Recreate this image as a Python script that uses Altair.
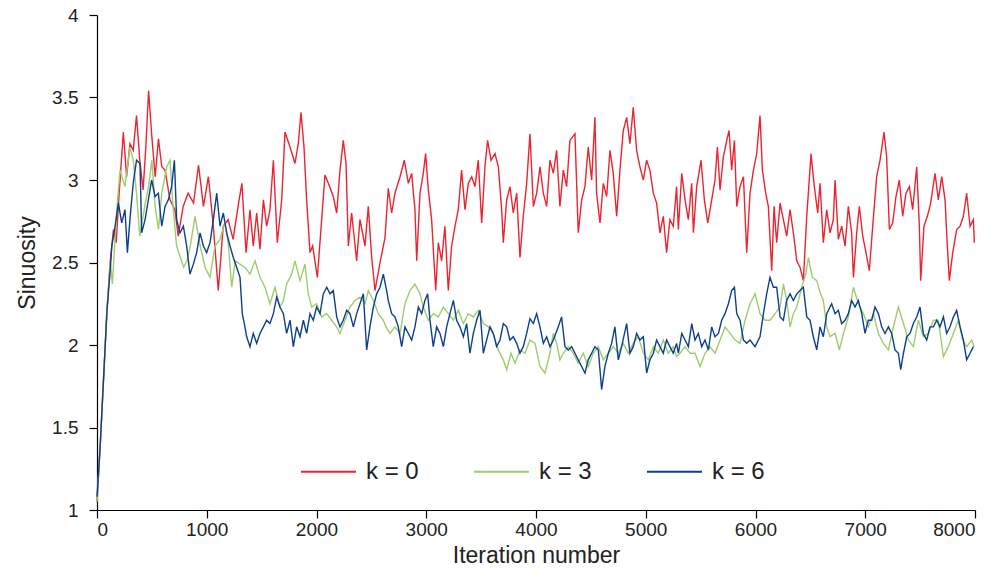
import altair as alt
import pandas as pd

# Sinuosity traces for three values of k, sampled along the iteration axis
K0_ITER = [0, 30, 60, 90, 120, 150, 175, 200, 240, 270, 300, 330, 360, 390, 420, 445, 470, 500, 530, 560, 590, 620, 665, 710, 740, 785, 830, 880, 925, 970, 1015, 1060, 1105, 1150, 1195, 1240, 1290, 1320, 1358, 1394, 1424, 1455, 1485, 1516, 1546, 1576, 1607, 1643, 1683, 1713, 1759, 1804, 1834, 1859, 1886, 1910, 1941, 1965, 2008, 2047, 2077, 2108, 2153, 2184, 2214, 2244, 2269, 2290, 2320, 2366, 2396, 2442, 2472, 2503, 2533, 2579, 2624, 2654, 2685, 2715, 2761, 2800, 2837, 2867, 2897, 2913, 2943, 2973, 2994, 3019, 3049, 3086, 3110, 3140, 3170, 3201, 3231, 3262, 3292, 3322, 3353, 3383, 3414, 3444, 3474, 3505, 3535, 3559, 3590, 3626, 3657, 3687, 3702, 3733, 3763, 3793, 3824, 3854, 3884, 3915, 3945, 3976, 4006, 4036, 4067, 4097, 4127, 4158, 4188, 4218, 4249, 4279, 4309, 4355, 4385, 4416, 4446, 4476, 4507, 4537, 4552, 4583, 4613, 4644, 4674, 4704, 4735, 4765, 4795, 4826, 4856, 4886, 4917, 4947, 4978, 5008, 5038, 5069, 5099, 5129, 5160, 5190, 5220, 5251, 5281, 5297, 5328, 5358, 5388, 5419, 5434, 5464, 5504, 5534, 5565, 5601, 5631, 5653, 5677, 5707, 5738, 5759, 5783, 5808, 5829, 5859, 5890, 5920, 5950, 5981, 6011, 6041, 6063, 6093, 6117, 6148, 6169, 6193, 6224, 6254, 6284, 6315, 6345, 6376, 6406, 6436, 6467, 6506, 6536, 6567, 6588, 6618, 6649, 6679, 6709, 6725, 6755, 6785, 6816, 6846, 6876, 6892, 6922, 6946, 6977, 7007, 7037, 7068, 7104, 7135, 7171, 7195, 7220, 7250, 7280, 7311, 7341, 7371, 7402, 7432, 7469, 7493, 7505, 7535, 7566, 7596, 7636, 7666, 7697, 7727, 7748, 7766, 7797, 7833, 7864, 7894, 7924, 7955, 7985, 7994]
K0_SIN = [1.05, 1.4, 1.8, 2.2, 2.5, 2.7, 2.62, 2.9, 3.29, 3.02, 3.22, 3.18, 3.39, 3.12, 2.94, 3.2, 3.54, 3.26, 3.02, 3.25, 3.08, 3.06, 2.88, 2.82, 2.66, 2.84, 2.92, 2.86, 3.09, 2.84, 3.02, 2.72, 2.33, 2.72, 2.76, 2.64, 2.86, 2.98, 2.56, 2.82, 2.60, 2.80, 2.58, 2.88, 2.72, 2.82, 3.12, 2.62, 2.88, 3.29, 3.20, 3.10, 3.22, 3.41, 3.20, 2.88, 2.56, 2.60, 2.41, 2.76, 3.03, 2.98, 2.90, 2.80, 3.06, 3.24, 3.10, 2.60, 2.80, 2.51, 2.76, 2.60, 2.84, 2.53, 2.33, 2.50, 2.65, 2.95, 2.80, 2.92, 3.02, 3.12, 2.98, 3.04, 2.82, 2.51, 2.92, 3.04, 3.16, 2.94, 2.76, 2.33, 2.62, 2.51, 2.72, 2.33, 2.60, 2.72, 2.82, 3.06, 2.82, 2.98, 3.02, 2.96, 3.12, 2.74, 3.08, 3.24, 3.12, 3.16, 3.08, 2.82, 2.62, 2.88, 2.96, 2.80, 2.92, 2.53, 2.78, 2.98, 3.28, 2.84, 2.92, 3.08, 2.92, 2.84, 3.12, 3.04, 3.18, 2.84, 3.06, 2.96, 3.24, 3.28, 2.68, 2.88, 2.96, 3.20, 3.00, 3.38, 2.92, 2.74, 2.98, 2.90, 3.18, 3.04, 2.78, 3.06, 3.30, 3.38, 3.22, 3.44, 3.18, 3.08, 3.00, 3.12, 3.06, 2.92, 2.86, 2.68, 2.78, 2.56, 2.76, 2.72, 2.96, 2.70, 3.04, 2.88, 2.76, 2.98, 2.68, 2.96, 3.12, 2.88, 2.74, 2.88, 3.00, 3.20, 2.94, 3.14, 3.24, 3.30, 3.06, 3.24, 2.84, 2.96, 3.02, 2.56, 2.92, 3.06, 3.16, 3.39, 3.06, 2.92, 2.84, 2.45, 2.84, 2.62, 2.86, 2.76, 2.66, 2.82, 2.68, 2.51, 2.47, 2.39, 2.78, 3.16, 2.96, 2.80, 2.98, 2.62, 2.82, 2.68, 2.76, 3.00, 2.64, 2.72, 2.60, 2.84, 2.68, 2.41, 2.68, 2.84, 2.66, 2.56, 2.45, 2.72, 3.02, 3.12, 3.29, 3.14, 2.70, 2.74, 2.90, 3.00, 2.78, 2.92, 2.96, 2.82, 3.08, 2.72, 2.39, 2.72, 2.78, 2.86, 3.04, 2.88, 3.02, 2.88, 2.60, 2.39, 2.56, 2.70, 2.72, 2.78, 2.92, 2.72, 2.76, 2.62]

K3_ITER = [0, 30, 60, 90, 120, 140, 180, 210, 255, 300, 330, 360, 390, 440, 470, 500, 530, 560, 590, 635, 665, 695, 725, 760, 790, 820, 850, 893, 940, 985, 1030, 1075, 1120, 1165, 1195, 1228, 1258, 1303, 1349, 1394, 1440, 1485, 1531, 1576, 1622, 1667, 1698, 1728, 1774, 1804, 1850, 1895, 1925, 1956, 2001, 2047, 2093, 2138, 2184, 2214, 2260, 2305, 2351, 2396, 2442, 2472, 2518, 2563, 2609, 2640, 2670, 2715, 2761, 2806, 2852, 2897, 2943, 2973, 3019, 3064, 3110, 3156, 3201, 3247, 3292, 3338, 3383, 3429, 3474, 3520, 3565, 3611, 3657, 3702, 3733, 3772, 3809, 3854, 3900, 3945, 3991, 4036, 4082, 4127, 4158, 4188, 4218, 4249, 4294, 4340, 4385, 4431, 4476, 4522, 4568, 4613, 4659, 4704, 4750, 4795, 4841, 4886, 4932, 4978, 5023, 5069, 5114, 5160, 5205, 5251, 5280, 5313, 5358, 5404, 5449, 5495, 5540, 5586, 5631, 5677, 5723, 5768, 5814, 5859, 5905, 5950, 5996, 6041, 6087, 6132, 6178, 6224, 6254, 6284, 6315, 6345, 6376, 6421, 6458, 6482, 6518, 6558, 6588, 6618, 6649, 6679, 6725, 6764, 6801, 6846, 6892, 6937, 6983, 7028, 7074, 7120, 7165, 7211, 7256, 7302, 7348, 7393, 7438, 7484, 7529, 7575, 7621, 7666, 7712, 7757, 7803, 7848, 7888, 7924, 7970, 7994]
K3_SIN = [1.05, 1.4, 1.8, 2.2, 2.51, 2.37, 2.82, 3.06, 2.96, 3.20, 3.12, 2.92, 2.66, 2.86, 2.96, 3.12, 2.84, 2.70, 2.92, 3.08, 3.12, 2.82, 2.60, 2.53, 2.47, 2.51, 2.60, 2.78, 2.60, 2.47, 2.41, 2.60, 2.64, 2.74, 2.62, 2.35, 2.51, 2.49, 2.47, 2.43, 2.51, 2.41, 2.35, 2.25, 2.35, 2.23, 2.27, 2.37, 2.43, 2.51, 2.39, 2.49, 2.31, 2.23, 2.25, 2.17, 2.19, 2.15, 2.11, 2.07, 2.15, 2.23, 2.27, 2.29, 2.25, 2.33, 2.27, 2.19, 2.15, 2.10, 2.07, 2.11, 2.07, 2.25, 2.33, 2.37, 2.31, 2.23, 2.15, 2.19, 2.17, 2.23, 2.19, 2.15, 2.21, 2.13, 2.19, 2.17, 2.21, 2.13, 2.11, 2.07, 1.97, 1.91, 1.85, 1.95, 1.89, 1.97, 1.95, 2.03, 2.01, 1.87, 1.83, 1.95, 2.07, 2.01, 1.91, 1.95, 1.99, 1.95, 1.89, 1.95, 1.87, 1.95, 1.99, 1.91, 1.95, 1.99, 1.95, 2.01, 1.95, 2.01, 2.05, 1.95, 1.91, 1.99, 1.95, 2.03, 1.95, 1.99, 1.93, 1.95, 1.99, 1.95, 1.95, 1.87, 1.95, 1.99, 1.95, 2.03, 2.11, 2.07, 2.03, 2.01, 2.15, 2.25, 2.31, 2.19, 2.15, 2.15, 2.19, 2.23, 2.37, 2.27, 2.11, 2.19, 2.23, 2.35, 2.43, 2.53, 2.41, 2.39, 2.32, 2.27, 2.11, 2.05, 2.07, 1.97, 2.07, 2.17, 2.35, 2.25, 2.19, 2.11, 2.19, 2.07, 2.01, 1.97, 2.11, 2.23, 2.13, 2.03, 1.99, 2.15, 2.05, 2.07, 2.15, 2.15, 1.93, 1.99, 2.07, 2.15, 2.03, 1.99, 2.03, 1.99]

K6_ITER = [0, 30, 60, 90, 120, 135, 165, 195, 225, 255, 277, 300, 330, 360, 392, 407, 438, 468, 498, 529, 559, 590, 620, 650, 680, 705, 726, 756, 787, 817, 847, 878, 908, 939, 969, 999, 1030, 1060, 1091, 1121, 1151, 1182, 1212, 1242, 1273, 1303, 1324, 1345, 1364, 1394, 1424, 1455, 1485, 1516, 1546, 1576, 1607, 1637, 1667, 1698, 1728, 1759, 1789, 1819, 1850, 1880, 1910, 1941, 1971, 2001, 2032, 2062, 2093, 2123, 2153, 2184, 2214, 2244, 2275, 2305, 2336, 2366, 2396, 2427, 2457, 2487, 2518, 2548, 2579, 2609, 2639, 2654, 2685, 2715, 2745, 2776, 2806, 2837, 2867, 2897, 2928, 2958, 2988, 3013, 3034, 3064, 3095, 3125, 3156, 3186, 3216, 3247, 3277, 3307, 3338, 3368, 3398, 3429, 3459, 3490, 3520, 3550, 3581, 3611, 3641, 3672, 3702, 3733, 3763, 3793, 3824, 3854, 3884, 3915, 3945, 3976, 4006, 4036, 4067, 4097, 4127, 4158, 4203, 4233, 4264, 4294, 4325, 4355, 4385, 4416, 4446, 4476, 4507, 4537, 4568, 4598, 4628, 4659, 4689, 4719, 4750, 4780, 4826, 4856, 4886, 4917, 4947, 4978, 5008, 5038, 5069, 5099, 5129, 5160, 5190, 5220, 5251, 5281, 5297, 5328, 5358, 5388, 5419, 5449, 5479, 5510, 5540, 5571, 5601, 5631, 5662, 5692, 5722, 5753, 5783, 5808, 5829, 5859, 5890, 5920, 5950, 5996, 6041, 6072, 6102, 6132, 6163, 6193, 6224, 6254, 6284, 6315, 6345, 6376, 6406, 6436, 6467, 6497, 6527, 6558, 6588, 6618, 6649, 6694, 6725, 6755, 6785, 6816, 6846, 6876, 6907, 6937, 6968, 6998, 7028, 7059, 7089, 7120, 7150, 7180, 7211, 7241, 7271, 7302, 7323, 7348, 7378, 7408, 7438, 7469, 7499, 7529, 7560, 7590, 7621, 7651, 7681, 7712, 7742, 7772, 7803, 7833, 7864, 7894, 7924, 7955, 7985]
K6_SIN = [1.08, 1.4, 1.8, 2.2, 2.45, 2.60, 2.72, 2.86, 2.74, 2.82, 2.56, 2.76, 2.98, 3.12, 3.10, 2.68, 2.76, 2.88, 3.00, 2.90, 2.92, 2.72, 2.84, 2.88, 2.96, 3.12, 2.76, 2.68, 2.72, 2.60, 2.43, 2.49, 2.56, 2.68, 2.60, 2.56, 2.62, 2.76, 2.92, 2.72, 2.80, 2.68, 2.60, 2.53, 2.47, 2.41, 2.19, 2.12, 2.05, 1.99, 2.07, 2.01, 2.07, 2.11, 2.15, 2.13, 2.19, 2.29, 2.23, 2.19, 2.07, 2.15, 1.99, 2.11, 2.05, 2.15, 2.07, 2.19, 2.15, 2.23, 2.19, 2.31, 2.35, 2.31, 2.33, 2.17, 2.11, 2.15, 2.21, 2.19, 2.11, 2.19, 2.25, 2.31, 1.97, 2.11, 2.23, 2.31, 2.35, 2.43, 2.33, 2.27, 2.19, 2.17, 2.11, 1.99, 2.11, 2.07, 2.03, 2.11, 2.23, 2.19, 2.27, 2.31, 2.15, 1.99, 2.11, 2.07, 1.99, 2.11, 2.19, 2.27, 2.15, 2.11, 2.05, 2.13, 1.95, 2.07, 2.15, 2.21, 1.95, 2.03, 2.11, 2.07, 1.99, 2.03, 2.13, 2.11, 2.03, 2.05, 2.01, 1.95, 1.99, 2.07, 2.16, 2.13, 2.19, 2.11, 2.01, 2.05, 1.99, 2.03, 2.11, 2.17, 1.99, 1.97, 1.99, 1.95, 1.91, 1.87, 1.83, 1.91, 1.95, 1.99, 1.97, 1.73, 1.87, 1.95, 2.01, 2.11, 1.91, 1.99, 2.13, 1.95, 1.99, 2.07, 2.03, 2.05, 1.83, 1.91, 1.95, 2.03, 1.99, 1.95, 2.03, 1.99, 1.95, 2.01, 1.95, 2.07, 2.03, 1.99, 2.13, 2.03, 2.07, 1.99, 2.03, 1.97, 2.11, 2.05, 2.07, 2.15, 2.19, 2.25, 2.33, 2.35, 2.19, 2.15, 2.03, 2.01, 2.03, 1.99, 2.05, 2.19, 2.31, 2.41, 2.35, 2.35, 2.17, 2.15, 2.27, 2.31, 2.27, 2.31, 2.33, 2.35, 2.17, 2.15, 2.05, 1.97, 2.11, 2.05, 2.19, 2.25, 2.19, 2.21, 2.13, 2.15, 2.19, 2.27, 2.23, 2.27, 2.19, 2.07, 2.15, 2.15, 2.23, 2.19, 2.11, 2.07, 2.11, 2.07, 1.97, 1.95, 1.85, 1.95, 2.05, 2.07, 2.13, 2.17, 2.23, 2.07, 2.03, 2.11, 2.11, 2.15, 2.11, 2.17, 2.07, 2.11, 2.17, 2.21, 2.11, 2.03, 1.91, 1.95, 1.99]

SERIES = ["k = 0", "k = 3", "k = 6"]
COLORS = ["#ec2430", "#9dcd6c", "#0c3f8e"]
X_TICKS = [0, 1000, 2000, 3000, 4000, 5000, 6000, 7000, 8000]
Y_TICKS = [1, 1.5, 2, 2.5, 3, 3.5, 4]

frames = []
for label, its, vals in zip(SERIES, [K0_ITER, K3_ITER, K6_ITER], [K0_SIN, K3_SIN, K6_SIN]):
    frames.append(pd.DataFrame({"iteration": its, "sinuosity": vals, "k": label, "order": range(len(its))}))
df = pd.concat(frames, ignore_index=True)

FONT = "Liberation Sans"

chart = (
    alt.Chart(df)
    .mark_line(strokeWidth=1.4, interpolate="linear")
    .encode(
        x=alt.X(
            "iteration:Q",
            scale=alt.Scale(domain=[0, 8000], nice=False, zero=False),
            axis=alt.Axis(
                title="Iteration number",
                values=X_TICKS,
                format="d",
                grid=False,
                tickSize=8,
                labelFontSize=19,
                titleFontSize=23,
                titleFontWeight="normal",
                labelPadding=2,
                titlePadding=5,
            ),
        ),
        y=alt.Y(
            "sinuosity:Q",
            scale=alt.Scale(domain=[1, 4], nice=False, zero=False),
            axis=alt.Axis(
                title="Sinuosity",
                values=Y_TICKS,
                labelExpr="datum.value + ''",
                grid=False,
                tickSize=8,
                labelFontSize=19,
                titleFontSize=23,
                titleFontWeight="normal",
                labelPadding=11,
                titlePadding=12,
            ),
        ),
        color=alt.Color(
            "k:N",
            scale=alt.Scale(domain=SERIES, range=COLORS),
            legend=alt.Legend(
                title=None,
                orient="none",
                direction="horizontal",
                legendX=203,
                legendY=428,
                symbolType="stroke",
                symbolSize=3025,
                symbolStrokeWidth=2,
                labelFontSize=24,
                labelOffset=9,
                columnPadding=51,
                padding=0,
            ),
        ),
        order="order:Q",
    )
    .properties(width=878, height=495)
    .configure(font=FONT, padding={"left": 97, "top": 15, "right": 23, "bottom": 67}, autosize="none")
    .configure_view(stroke=None)
    .configure_axis(
        domainColor="#000000",
        tickColor="#000000",
        labelColor="#222222",
        titleColor="#222222",
        labelFont=FONT,
        titleFont=FONT,
        domainWidth=1.2,
        tickWidth=1.2,
    )
    .configure_legend(labelFont=FONT, labelColor="#222222")
)

chart.save("out.html", embed_options={"renderer": "svg", "actions": False})
